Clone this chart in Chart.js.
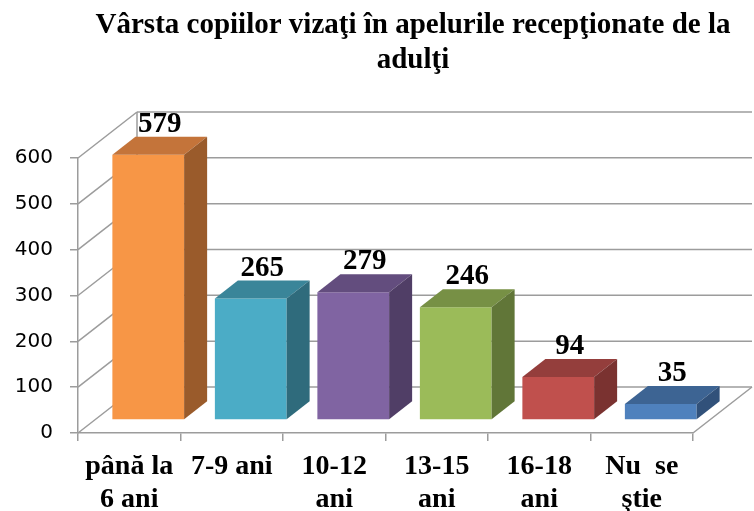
<!DOCTYPE html>
<html lang="ro">
<head>
  <meta charset="UTF-8">
  <title>Vârsta copiilor vizaţi în apelurile recepţionate de la adulţi</title>
  <script src="https://cdn.jsdelivr.net/npm/chart.js"></script>
  <style>
    body {
      margin: 0;
      background-color: white;
    }
    #chart-container {
      width: 754px;
      height: 511px;
      position: relative;
    }
  </style>
</head>
<body>

  <div id="chart-container">
    <canvas id="myChart" width="754" height="511"></canvas>
  </div>

  <script>
    // chart data
    const titleLines = ['Vârsta copiilor vizaţi în apelurile recepţionate de la', 'adulţi'];
    const categories = [['până la', '6 ani'], ['7-9 ani'], ['10-12', 'ani'], ['13-15', 'ani'], ['16-18', 'ani'], ['Nu  se', 'ştie']];
    const counts = [579, 265, 279, 246, 94, 35];

    // colours of each box: front, top, side
    const frontColors = ['#F79646', '#4BACC6', '#8064A2', '#9BBB59', '#C0504D', '#4F81BD'];
    const topColors   = ['#C4743A', '#3A8599', '#634D7E', '#779045', '#943E3C', '#3D6493'];
    const sideColors  = ['#9A5B2B', '#2F6B7C', '#503E66', '#617638', '#7A3230', '#31517A'];

    const gridColor = '#9c9c9c';

    // 3D offsets (pixels)
    const wall = { dx: 59, dy: -46 };     // depth of the walls
    const barShift = { dx: 19, dy: -13 }; // front face of the boxes behind the axis
    const barDepth = { dx: 23, dy: -18 }; // depth of the boxes

    function line(ctx, x1, y1, x2, y2) {
      ctx.beginPath();
      ctx.moveTo(x1, y1);
      ctx.lineTo(x2, y2);
      ctx.stroke();
    }

    function poly(ctx, pts, color) {
      ctx.beginPath();
      ctx.moveTo(pts[0][0], pts[0][1]);
      for (let i = 1; i < pts.length; i++) ctx.lineTo(pts[i][0], pts[i][1]);
      ctx.closePath();
      ctx.fillStyle = color;
      ctx.fill();
    }

    const box3d = {
      id: 'box3d',
      beforeDatasetsDraw(chart) {
        // side wall, back wall and floor
        const ctx = chart.ctx;
        const area = chart.chartArea;
        const yScale = chart.scales.y;
        ctx.save();
        ctx.strokeStyle = gridColor;
        ctx.lineWidth = 1.5;
        yScale.ticks.forEach(t => {
          const py = yScale.getPixelForValue(t.value);
          line(ctx, area.left, py, area.left + wall.dx, py + wall.dy);
          line(ctx, area.left + wall.dx, py + wall.dy, area.right + wall.dx, py + wall.dy);
        });
        line(ctx, area.left + wall.dx, area.top + wall.dy, area.left + wall.dx, area.bottom + wall.dy);
        line(ctx, area.right, area.bottom, area.right + wall.dx, area.bottom + wall.dy);
        ctx.restore();
      },
      beforeDatasetDraw() {
        return false; // boxes are drawn below
      },
      afterDatasetsDraw(chart) {
        const ctx = chart.ctx;
        const meta = chart.getDatasetMeta(0);
        ctx.save();
        meta.data.forEach((bar, i) => {
          const l = bar.x - bar.width / 2 + barShift.dx;
          const r = bar.x + bar.width / 2 + barShift.dx;
          const top = bar.y + barShift.dy;
          const base = bar.base + barShift.dy;
          poly(ctx, [[l, top], [r, top], [r, base], [l, base]], frontColors[i]);
          poly(ctx, [[l, top], [l + barDepth.dx, top + barDepth.dy], [r + barDepth.dx, top + barDepth.dy], [r, top]], topColors[i]);
          poly(ctx, [[r, top], [r + barDepth.dx, top + barDepth.dy], [r + barDepth.dx, base + barDepth.dy], [r, base]], sideColors[i]);
        });
        // value labels
        ctx.fillStyle = '#000';
        ctx.font = 'bold 29px "Liberation Serif"';
        ctx.textAlign = 'center';
        ctx.textBaseline = 'alphabetic';
        meta.data.forEach((bar, i) => {
          const cx = bar.x + barShift.dx + barDepth.dx / 2;
          const cy = bar.y + barShift.dy + barDepth.dy - 5;
          ctx.fillText(String(counts[i]), cx, cy);
        });
        ctx.restore();
      },
      afterDraw(chart) {
        const ctx = chart.ctx;
        const area = chart.chartArea;
        const cx = (area.left + area.right + wall.dx) / 2 - 2;
        ctx.save();
        ctx.fillStyle = '#000';
        ctx.font = 'bold 29px "Liberation Serif"';
        ctx.textAlign = 'center';
        ctx.textBaseline = 'alphabetic';
        ctx.fillText(titleLines[0], cx, 33);
        ctx.fillText(titleLines[1], cx, 68);
        ctx.restore();
      }
    };

    const ctx = document.getElementById('myChart').getContext('2d');
    const myChart = new Chart(ctx, {
      type: 'bar',
      data: {
        labels: categories,
        datasets: [{
          label: 'Număr',
          data: counts,
          backgroundColor: frontColors,
          categoryPercentage: 1,
          barPercentage: 0.7
        }]
      },
      options: {
        responsive: false,
        animation: false,
        layout: {
          padding: { top: 158, right: 61, left: 0, bottom: 0 }
        },
        plugins: {
          legend: { display: false },
          title: { display: false },
          tooltip: { enabled: false }
        },
        scales: {
          x: {
            grid: { drawOnChartArea: false, tickLength: 8, color: gridColor, lineWidth: 1.5 },
            border: { color: gridColor, width: 1.5 },
            ticks: {
              color: '#000',
              padding: 10,
              maxRotation: 0,
              autoSkip: false,
              font: { family: 'Liberation Serif', size: 28, weight: 'bold', lineHeight: 1.15 }
            },
            afterFit(scale) { scale.height = 78; }
          },
          y: {
            min: 0,
            max: 600,
            grid: { drawOnChartArea: false, tickLength: 8, color: gridColor, lineWidth: 1.5 },
            border: { color: gridColor, width: 1.5 },
            ticks: {
              stepSize: 100,
              color: '#000',
              padding: 17,
              font: { family: 'DejaVu Sans', size: 20 }
            },
            afterFit(scale) { scale.width = 78; }
          }
        }
      },
      plugins: [box3d]
    });
  </script>
</body>
</html>
